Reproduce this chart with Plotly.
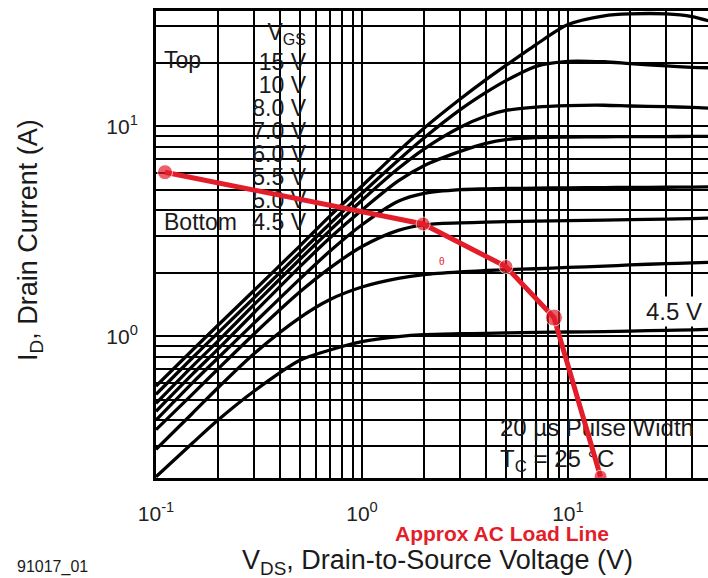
import plotly.graph_objects as go

# ---------------- data ----------------
VDS = [0.1, 0.15, 0.2, 0.3, 0.5, 0.7, 1, 1.5, 2, 3, 4, 5, 7, 10, 15, 20, 30, 40, 48]

ID_15V = [0.58, 0.86, 1.13, 1.66, 2.7, 3.75, 5.2, 7.6, 9.8, 13.5, 16.7, 19.5, 24.5, 30.5, 33.6, 34.3, 34.3, 33.3, 31.8]
ID_10V = [0.53, 0.79, 1.04, 1.53, 2.5, 3.45, 4.8, 6.9, 8.8, 12.0, 14.5, 16.5, 19.3, 20.4, 20.3, 19.9, 19.4, 19.1, 19.0]
ID_8V = [0.48, 0.72, 0.95, 1.42, 2.33, 3.2, 4.45, 6.3, 7.8, 9.9, 11.2, 11.9, 12.35, 12.55, 12.6, 12.5, 12.4, 12.3, 12.2]
ID_7V = [0.44, 0.66, 0.87, 1.3, 2.15, 2.95, 4.0, 5.5, 6.5, 7.6, 8.3, 8.65, 8.85, 8.9, 8.92, 8.93, 8.94, 8.95, 8.95]
ID_6V = [0.40, 0.6, 0.79, 1.16, 1.88, 2.55, 3.4, 4.4, 4.8, 5.0, 5.04, 5.06, 5.08, 5.1, 5.11, 5.12, 5.13, 5.14, 5.15]
ID_5V5 = [0.36, 0.53, 0.70, 1.03, 1.63, 2.12, 2.68, 3.2, 3.4, 3.47, 3.5, 3.52, 3.54, 3.56, 3.58, 3.6, 3.62, 3.64, 3.66]
ID_5V = [0.29, 0.43, 0.57, 0.83, 1.23, 1.5, 1.72, 1.89, 1.97, 2.03, 2.06, 2.08, 2.1, 2.13, 2.16, 2.19, 2.22, 2.24, 2.25]
ID_4V5 = [0.215, 0.31, 0.40, 0.55, 0.77, 0.862, 0.944, 0.998, 1.02, 1.03, 1.035, 1.04, 1.045, 1.05, 1.055, 1.06, 1.07, 1.075, 1.08]

CURVES = [ID_15V, ID_10V, ID_8V, ID_7V, ID_6V, ID_5V5, ID_5V, ID_4V5]

LOAD_V = [0.1106, 1.98, 5.0, 8.55, 14.4]
LOAD_I = [6.05, 3.43, 2.15, 1.23, 0.215]
LOAD_SIZES = [15, 14, 14, 17, 13]

LEGEND_LABELS = ["15 V", "10 V", "8.0 V", "7.0 V", "6.0 V", "5.5 V", "5.0 V", "4.5 V"]

X_GRID = [0.2, 0.3, 0.4, 0.5, 0.6, 0.7, 0.8, 0.9, 1, 2, 3, 4, 5, 6, 7, 8, 9, 10, 20, 30, 40]
X_TICKS = {0.1: "10<sup>-1</sup>", 1: "10<sup>0</sup>", 10: "10<sup>1</sup>"}
Y_GRID = [0.3, 0.4, 0.5, 0.6, 0.7, 0.8, 0.9, 1, 2, 3, 4, 5, 6, 7, 8, 9, 10, 20, 30]
Y_TICKS = {1: "10<sup>0</sup>", 10: "10<sup>1</sup>"}

X_RANGE = [-1.0, 1.68]
Y_RANGE = [-0.6737, 1.549]

RED = "#e31e2a"
INK = "#1a1a1a"
FONT = "Liberation Sans, Arial, Helvetica, sans-serif"

# ---------------- layout geometry ----------------
W, H = 708, 578
L, R, T, B = 156, 0, 11, 100
PW, PH = W - L - R, H - T - B


def px(xp):
    return (xp - L) / PW


def py(yp):
    return (T + PH - yp) / PH


def xd(xp):
    return 10 ** (X_RANGE[0] + (xp - L) / PW * (X_RANGE[1] - X_RANGE[0]))


def yd(yp):
    return 10 ** (Y_RANGE[1] - (yp - T) / PH * (Y_RANGE[1] - Y_RANGE[0]))


fig = go.Figure()

for ys in CURVES:
    fig.add_trace(go.Scatter(x=VDS, y=ys, mode="lines",
                             line=dict(color="black", width=3.3, shape="spline", smoothing=0.8),
                             hoverinfo="skip", showlegend=False))


def text_trace(texts, xps, yps, pos, size=23):
    fig.add_trace(go.Scatter(x=[xd(v) for v in xps], y=[yd(v) for v in yps], mode="text",
                             text=texts, textposition=pos,
                             textfont=dict(family=FONT, size=size, color=INK),
                             hoverinfo="skip", showlegend=False, cliponaxis=False))


# legend block (drawn under the red load line, as in the reference)
leg_y = [64, 87, 110, 133, 156, 179, 202, 224]
text_trace(["V<sub>GS</sub>"] + LEGEND_LABELS, [306] * 9, [34] + leg_y, "middle left")
text_trace(["Top", "Bottom"], [164, 164], [62, 224], "middle right")
text_trace(["20 µs Pulse Width", "T<sub>C</sub> = 25 °C"], [500, 500], [430, 461], "middle right", size=24)

fig.add_trace(go.Scatter(x=LOAD_V, y=LOAD_I, mode="lines+markers",
                         line=dict(color=RED, width=5),
                         marker=dict(color=RED, size=LOAD_SIZES),
                         showlegend=False))

xtv = [0.1] + X_GRID
xtt = [X_TICKS.get(v, "") for v in xtv]
ytv = Y_GRID
ytt = [Y_TICKS.get(v, "") for v in ytv]

fig.update_xaxes(type="log", range=X_RANGE, tickmode="array", tickvals=xtv, ticktext=xtt,
                 showgrid=True, gridcolor="black", gridwidth=2,
                 ticks="outside", ticklen=15, tickcolor="rgba(0,0,0,0)",
                 tickfont=dict(family=FONT, size=21, color="#222"),
                 showline=True, linecolor="black", linewidth=3, mirror=True, zeroline=False)
fig.update_yaxes(type="log", range=Y_RANGE, tickmode="array", tickvals=ytv, ticktext=ytt,
                 showgrid=True, gridcolor="black", gridwidth=2,
                 ticks="outside", ticklen=11, tickcolor="rgba(0,0,0,0)",
                 tickfont=dict(family=FONT, size=21, color="#222"),
                 showline=True, linecolor="black", linewidth=3, mirror=False, zeroline=False)

shapes = [
    dict(type="rect", xref="paper", yref="paper", x0=0.003, x1=px(309), y0=py(236), y1=0.995,
         fillcolor="white", line=dict(width=0), layer="between"),
    dict(type="rect", xref="paper", yref="paper", x0=px(497), x1=1.0, y0=0.004, y1=py(407),
         fillcolor="white", line=dict(width=0), layer="between"),
]

ann = []


def add_text(text, xp, yp, xanchor="center", size=23, color=INK, bold=False, angle=0, bg=None):
    d = dict(text=("<b>%s</b>" % text) if bold else text, xref="paper", yref="paper",
             x=px(xp), y=py(yp), xanchor=xanchor, yanchor="middle", showarrow=False,
             textangle=angle, font=dict(family=FONT, size=size, color=color))
    if bg:
        d["bgcolor"] = bg
        d["borderpad"] = 1
    ann.append(d)


add_text("4.5 V", 704, 311, "right", size=24, bg="white")
add_text("θ", 442, 261, "center", size=10, color=RED)
add_text("Approx AC Load Line", 502, 533, "center", size=21, color=RED, bold=True)
add_text("V<sub>DS</sub>, Drain-to-Source Voltage (V)", 437, 562, "center", size=27)
add_text("I<sub>D</sub>, Drain Current (A)", 30, 240, "center", size=27, angle=-90)
add_text("91017_01", 52, 567, "center", size=16)

fig.update_layout(width=W, height=H, autosize=False,
                  margin=dict(l=L, r=R, t=T, b=B),
                  paper_bgcolor="white", plot_bgcolor="white",
                  shapes=shapes, annotations=ann, showlegend=False)

fig.write_html("out.html", config={"displayModeBar": False, "staticPlot": True},
               post_script="document.body.style.margin='0';document.body.style.padding='0';")
